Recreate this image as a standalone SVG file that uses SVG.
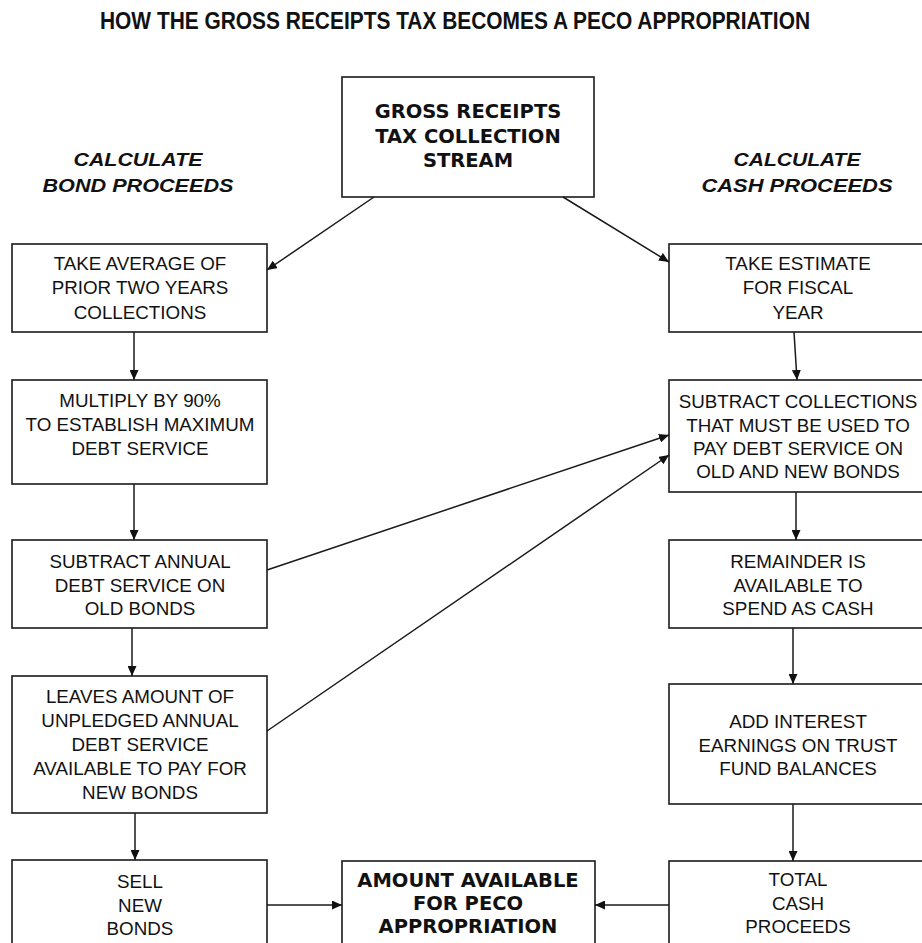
<svg xmlns="http://www.w3.org/2000/svg" width="922" height="943" viewBox="0 0 922 943">
<defs>
<style>
.box{fill:#fff;stroke:#1a1a1a;stroke-width:1.6}
.t{font-family:"Liberation Sans",Arial,sans-serif;font-size:18.8px;fill:#111;text-anchor:middle}
.b{font-family:"DejaVu Sans","Liberation Sans",sans-serif;font-weight:bold;font-size:19.5px;fill:#111;text-anchor:middle}
.h{font-family:"Liberation Sans",Arial,sans-serif;font-weight:bold;font-style:italic;font-size:19px;fill:#111;text-anchor:middle}
.title{font-family:"Liberation Sans Narrow","Liberation Sans",Arial,sans-serif;font-weight:bold;font-size:23px;fill:#111}
.c{fill:none;stroke:#1a1a1a;stroke-width:1.5}
</style>
<marker id="ah" markerWidth="10" markerHeight="9" refX="10" refY="4.5" orient="auto" markerUnits="userSpaceOnUse">
<path d="M0,0 L10,4.5 L0,9 Z" fill="#111"/>
</marker>
</defs>
<rect width="922" height="943" fill="#fff"/>
<text class="title" x="100" y="29" textLength="710" lengthAdjust="spacingAndGlyphs">HOW THE GROSS RECEIPTS TAX BECOMES A PECO APPROPRIATION</text>

<text class="h" x="138" y="166" textLength="129" lengthAdjust="spacingAndGlyphs">CALCULATE</text>
<text class="h" x="138" y="192" textLength="191" lengthAdjust="spacingAndGlyphs">BOND PROCEEDS</text>
<text class="h" x="797" y="166" textLength="127" lengthAdjust="spacingAndGlyphs">CALCULATE</text>
<text class="h" x="797" y="192" textLength="191" lengthAdjust="spacingAndGlyphs">CASH PROCEEDS</text>

<g id="source">
<rect class="box" x="342" y="77" width="252" height="120"/>
<text class="b" x="468" y="118">GROSS RECEIPTS</text>
<text class="b" x="468" y="143">TAX COLLECTION</text>
<text class="b" x="468" y="167">STREAM</text>
</g>

<g id="avg">
<rect class="box" x="12" y="244" width="255" height="88"/>
<text class="t" x="140" y="270">TAKE AVERAGE OF</text>
<text class="t" x="140" y="294">PRIOR TWO YEARS</text>
<text class="t" x="140" y="319">COLLECTIONS</text>
</g>

<g id="multiply">
<rect class="box" x="12" y="380" width="255" height="104"/>
<text class="t" x="140" y="407">MULTIPLY BY 90%</text>
<text class="t" x="140" y="431">TO ESTABLISH MAXIMUM</text>
<text class="t" x="140" y="455">DEBT SERVICE</text>
</g>

<g id="subtract-old">
<rect class="box" x="12" y="540" width="255" height="88"/>
<text class="t" x="140" y="568">SUBTRACT ANNUAL</text>
<text class="t" x="140" y="592">DEBT SERVICE ON</text>
<text class="t" x="140" y="615">OLD BONDS</text>
</g>

<g id="unpledged">
<rect class="box" x="12" y="676" width="255" height="137"/>
<text class="t" x="140" y="703">LEAVES AMOUNT OF</text>
<text class="t" x="140" y="727">UNPLEDGED ANNUAL</text>
<text class="t" x="140" y="751">DEBT SERVICE</text>
<text class="t" x="140" y="775">AVAILABLE TO PAY FOR</text>
<text class="t" x="140" y="799">NEW BONDS</text>
</g>

<g id="sell">
<rect class="box" x="12" y="860" width="255" height="100"/>
<text class="t" x="140" y="888">SELL</text>
<text class="t" x="140" y="912">NEW</text>
<text class="t" x="140" y="935">BONDS</text>
</g>

<g id="amount">
<rect class="box" x="342" y="861" width="253" height="100"/>
<text class="b" x="468" y="887">AMOUNT AVAILABLE</text>
<text class="b" x="468" y="910">FOR PECO</text>
<text class="b" x="468" y="933">APPROPRIATION</text>
</g>

<g id="estimate">
<rect class="box" x="669" y="244" width="256" height="88"/>
<text class="t" x="798" y="270">TAKE ESTIMATE</text>
<text class="t" x="798" y="294">FOR FISCAL</text>
<text class="t" x="798" y="319">YEAR</text>
</g>

<g id="subtract-collections">
<rect class="box" x="669" y="380" width="256" height="112"/>
<text class="t" x="798" y="408">SUBTRACT COLLECTIONS</text>
<text class="t" x="798" y="432">THAT MUST BE USED TO</text>
<text class="t" x="798" y="455">PAY DEBT SERVICE ON</text>
<text class="t" x="798" y="478">OLD AND NEW BONDS</text>
</g>

<g id="remainder">
<rect class="box" x="669" y="540" width="256" height="88"/>
<text class="t" x="798" y="568">REMAINDER IS</text>
<text class="t" x="798" y="592">AVAILABLE TO</text>
<text class="t" x="798" y="615">SPEND AS CASH</text>
</g>

<g id="interest">
<rect class="box" x="669" y="684" width="256" height="120"/>
<text class="t" x="798" y="728">ADD INTEREST</text>
<text class="t" x="798" y="752">EARNINGS ON TRUST</text>
<text class="t" x="798" y="775">FUND BALANCES</text>
</g>

<g id="total">
<rect class="box" x="669" y="861" width="256" height="100"/>
<text class="t" x="798" y="886">TOTAL</text>
<text class="t" x="798" y="910">CASH</text>
<text class="t" x="798" y="933">PROCEEDS</text>
</g>

<g id="connectors">
<line class="c" x1="374" y1="197" x2="267" y2="270" marker-end="url(#ah)"/>
<line class="c" x1="563" y1="197" x2="669" y2="262" marker-end="url(#ah)"/>
<line class="c" x1="134" y1="332" x2="134" y2="380" marker-end="url(#ah)"/>
<line class="c" x1="134" y1="484" x2="134" y2="540" marker-end="url(#ah)"/>
<line class="c" x1="132" y1="628" x2="132" y2="676" marker-end="url(#ah)"/>
<line class="c" x1="135" y1="813" x2="135" y2="860" marker-end="url(#ah)"/>
<line class="c" x1="794" y1="332" x2="797" y2="380" marker-end="url(#ah)"/>
<line class="c" x1="796" y1="492" x2="796" y2="540" marker-end="url(#ah)"/>
<line class="c" x1="793" y1="628" x2="793" y2="684" marker-end="url(#ah)"/>
<line class="c" x1="793" y1="804" x2="793" y2="861" marker-end="url(#ah)"/>
<line class="c" x1="267" y1="570" x2="669" y2="435" marker-end="url(#ah)"/>
<line class="c" x1="267" y1="731" x2="669" y2="455" marker-end="url(#ah)"/>
<line class="c" x1="267" y1="905" x2="342" y2="905" marker-end="url(#ah)"/>
<line class="c" x1="669" y1="905" x2="595" y2="905" marker-end="url(#ah)"/>
</g>
</svg>
